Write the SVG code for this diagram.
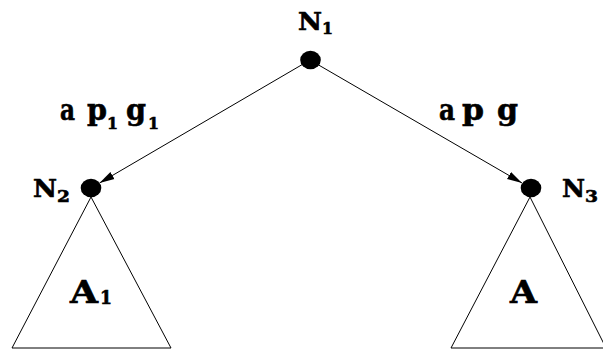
<svg xmlns="http://www.w3.org/2000/svg" width="603" height="349" viewBox="0 0 603 349">
<style>
.lbl{font-family:"DejaVu Serif","Liberation Serif",serif;font-weight:bold;fill:#000;stroke:#000;stroke-width:0.6}
.big{font-size:24px}
.sub{font-size:17px}
.edge{font-size:29px}
.tri{fill:none;stroke:#000;stroke-width:1}
.con{fill:none;stroke:#000;stroke-width:1}
</style>
<defs>
<marker id="arr" markerUnits="userSpaceOnUse" markerWidth="16" markerHeight="10" refX="15" refY="5" orient="auto">
<path d="M0,1 L15,5 L0,9 Z" fill="#000"/>
</marker>
</defs>
<rect width="603" height="349" fill="#fff"/>
<g id="connectors">
<line class="con" x1="310" y1="60" x2="99.5" y2="183" marker-end="url(#arr)"/>
<line class="con" x1="310" y1="60" x2="522" y2="183" marker-end="url(#arr)"/>
<text class="lbl edge" y="120"><tspan x="60" textLength="15" lengthAdjust="spacingAndGlyphs">a</tspan><tspan x="87" textLength="20" lengthAdjust="spacingAndGlyphs">p</tspan><tspan class="sub" x="107" y="129" textLength="11" lengthAdjust="spacingAndGlyphs">1</tspan><tspan x="126" y="120" textLength="20" lengthAdjust="spacingAndGlyphs">g</tspan><tspan class="sub" x="148" y="129" textLength="11" lengthAdjust="spacingAndGlyphs">1</tspan></text>
<text class="lbl edge" y="120"><tspan x="439" textLength="16" lengthAdjust="spacingAndGlyphs">a</tspan><tspan x="462" textLength="22" lengthAdjust="spacingAndGlyphs">p</tspan><tspan x="497" textLength="21" lengthAdjust="spacingAndGlyphs">g</tspan></text>
</g>
<g id="N1">
<ellipse cx="310.5" cy="60" rx="10.3" ry="9.3" fill="#000"/>
<text class="lbl big" y="30"><tspan x="298" textLength="24" lengthAdjust="spacingAndGlyphs">N</tspan><tspan class="sub" x="322" y="34" textLength="11" lengthAdjust="spacingAndGlyphs">1</tspan></text>
</g>
<g id="N2">
<ellipse cx="91" cy="188" rx="10.3" ry="9.3" fill="#000"/>
<text class="lbl big" y="197"><tspan x="33" textLength="24" lengthAdjust="spacingAndGlyphs">N</tspan><tspan class="sub" x="57" y="202" textLength="13" lengthAdjust="spacingAndGlyphs">2</tspan></text>
<polygon class="tri" points="91,197 12,348 171,348"/>
<text class="lbl" style="font-size:31px" y="303"><tspan x="70" textLength="28" lengthAdjust="spacingAndGlyphs">A</tspan><tspan style="font-size:19px" x="100" y="304" textLength="12" lengthAdjust="spacingAndGlyphs">1</tspan></text>
</g>
<g id="N3">
<ellipse cx="531" cy="188" rx="10.3" ry="9.3" fill="#000"/>
<text class="lbl big" y="197"><tspan x="562" textLength="23" lengthAdjust="spacingAndGlyphs">N</tspan><tspan class="sub" x="585" y="202" textLength="13" lengthAdjust="spacingAndGlyphs">3</tspan></text>
<polygon class="tri" points="530,197 451,348 606,348"/>
<text class="lbl" style="font-size:31px" y="303"><tspan x="510" textLength="27" lengthAdjust="spacingAndGlyphs">A</tspan></text>
</g>
</svg>
